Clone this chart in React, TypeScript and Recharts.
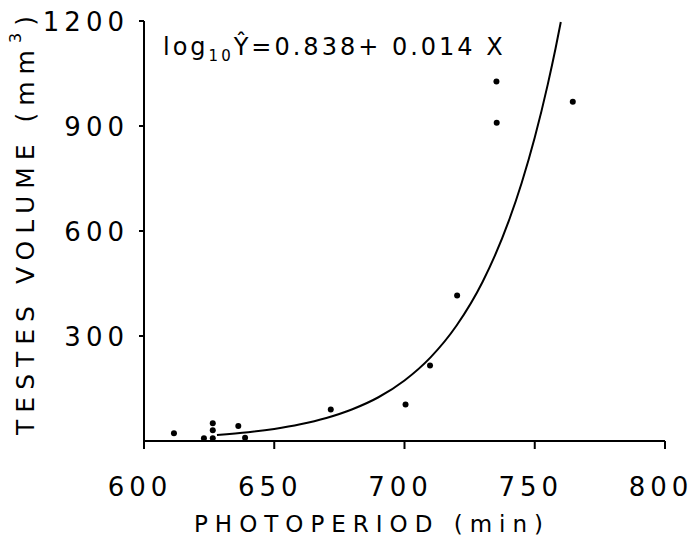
import React from "react";
import { ComposedChart, Scatter, Line, XAxis, YAxis } from "recharts";

const xTicks = [600, 650, 700, 750, 800];
const yTicks = [300, 600, 900, 1200];

const obsX = [611.5, 623, 626.4, 626.4, 626.4, 636.2, 638.8, 671.7, 700.4, 709.8, 720.2, 735.3, 735.4, 764.6];
const obsY = [22, 7.6, 8, 31, 51, 43, 9.5, 90, 104.5, 216, 416, 1027, 909, 969];

const fitX = [628, 640, 650, 660, 670, 680, 690, 700, 710, 720, 730, 740, 745, 750, 755, 758, 760];
const fitY = [17, 25, 34.5, 47.6, 65.8, 90.8, 125, 173, 239, 330, 455, 628, 738, 867, 1019, 1122, 1197];

const obs = obsX.map((x, i) => ({ x, y: obsY[i] }));
const fit = fitX.map((x, i) => ({ x, y: fitY[i] }));

const FONT = "DejaVu Sans";

const XTick = (props: any) => {
  const { x, y, payload } = props;
  return (
    <text x={x - 4} y={y + 45} textAnchor="middle" fontFamily={FONT} fontSize={26} letterSpacing={5} fill="#000">
      {payload.value}
    </text>
  );
};

const YTick = (props: any) => {
  const { x, y, payload } = props;
  return (
    <text x={x - 8} y={y + 9.5} textAnchor="end" fontFamily={FONT} fontSize={26} letterSpacing={5} fill="#000">
      {payload.value}
    </text>
  );
};

const XTitle = () => (
  <text x={372} y={532} textAnchor="middle" fontFamily={FONT} fontSize={23} letterSpacing={7} fill="#000">
    PHOTOPERIOD (min)
  </text>
);

const YTitle = () => (
  <text
    x={25}
    y={222}
    transform="rotate(-90 25 222)"
    textAnchor="middle"
    dominantBaseline="central"
    fontFamily={FONT}
    fontSize={25}
    letterSpacing={7}
    fill="#000"
  >
    TESTES VOLUME (mm
    <tspan dy={-10} fontSize={16}>3</tspan>
    <tspan dy={10}>)</tspan>
  </text>
);

const Dot = (props: any) => <circle cx={props.cx} cy={props.cy} r={3} fill="#000" />;

export default function App() {
  return (
    <div style={{ position: "absolute", left: 0, top: 0, width: 695, height: 538, background: "#fff" }}>
      <ComposedChart width={695} height={538} margin={{ top: 21, right: 30, bottom: 0, left: 0 }}>
        <XAxis
          dataKey="x"
          type="number"
          domain={[600, 800]}
          ticks={xTicks}
          height={97}
          tickSize={8}
          axisLine={{ stroke: "#000", strokeWidth: 2 }}
          tickLine={{ stroke: "#000", strokeWidth: 2 }}
          tick={<XTick />}
          label={<XTitle />}
          allowDataOverflow
        />
        <YAxis
          dataKey="y"
          type="number"
          domain={[0, 1200]}
          ticks={yTicks}
          width={144}
          tickSize={5}
          axisLine={{ stroke: "#000", strokeWidth: 2 }}
          tickLine={{ stroke: "#000", strokeWidth: 2 }}
          tick={<YTick />}
          label={<YTitle />}
          allowDataOverflow
        />
        <Line data={fit} dataKey="y" type="monotone" stroke="#000" strokeWidth={2} dot={false} isAnimationActive={false} />
        <Scatter data={obs} dataKey="y" shape={<Dot />} isAnimationActive={false} />
      </ComposedChart>
      <svg width={695} height={538} style={{ position: "absolute", left: 0, top: 0, pointerEvents: "none" }}>
        <text x={163} y={55} fontFamily={FONT} fontSize={24} letterSpacing={3} fill="#000">
          log
          <tspan dy={6} fontSize={15}>10</tspan>
          <tspan dy={-6}>Ŷ=0.838+ 0.014 X</tspan>
        </text>
      </svg>
    </div>
  );
}
